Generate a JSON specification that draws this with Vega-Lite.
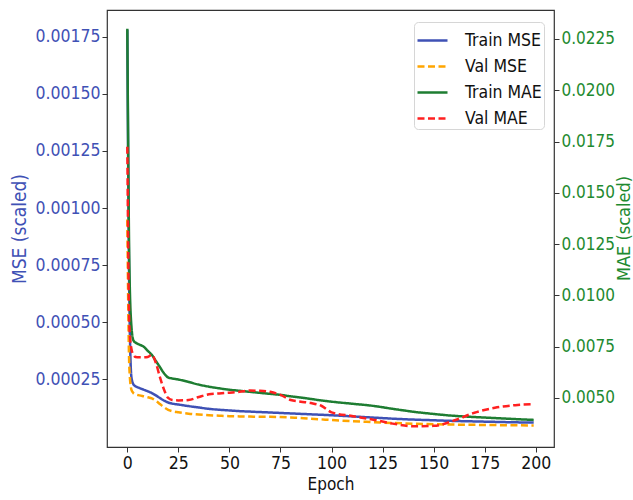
{
  "$schema": "https://vega.github.io/schema/vega-lite/v6.json",
  "width": 447,
  "height": 437,
  "autosize": {"type": "none"},
  "padding": {"left": 107, "top": 10, "right": 79, "bottom": 53},
  "config": {
    "font": "DejaVu Sans Condensed",
    "view": {"stroke": "#333333", "strokeWidth": 1.2},
    "axis": {
      "grid": false,
      "domain": false,
      "tickColor": "#333333",
      "tickSize": 5,
      "tickWidth": 1,
      "labelFont": "DejaVu Sans Condensed",
      "titleFont": "DejaVu Sans Condensed",
      "labelFontSize": 17.5,
      "titleFontSize": 16.5,
      "titleFontWeight": "normal",
      "labelPadding": 2
    },
    "legend": {
      "labelFont": "DejaVu Sans Condensed",
      "labelFontSize": 17.5,
      "labelColor": "#111111"
    }
  },
  "data": {
    "values": [
      {"epoch": 0, "Train MSE": 0.00178, "Val MSE": 0.00095, "Train MAE": 0.0230, "Val MAE": 0.01725},
      {"epoch": 1, "Train MSE": 0.00060, "Val MSE": 0.00030, "Train MAE": 0.0115, "Val MAE": 0.0085},
      {"epoch": 2, "Train MSE": 0.00026, "Val MSE": 0.000205, "Train MAE": 0.0085, "Val MAE": 0.0074},
      {"epoch": 3, "Train MSE": 0.000228, "Val MSE": 0.00019, "Train MAE": 0.0078, "Val MAE": 0.0071},
      {"epoch": 4, "Train MSE": 0.00022, "Val MSE": 0.000185, "Train MAE": 0.0077, "Val MAE": 0.0070},
      {"epoch": 6, "Train MSE": 0.000212, "Val MSE": 0.00018, "Train MAE": 0.0076, "Val MAE": 0.00698},
      {"epoch": 8, "Train MSE": 0.000205, "Val MSE": 0.000176, "Train MAE": 0.0075, "Val MAE": 0.00698},
      {"epoch": 10, "Train MSE": 0.000198, "Val MSE": 0.000172, "Train MAE": 0.0073, "Val MAE": 0.0070},
      {"epoch": 12, "Train MSE": 0.00019, "Val MSE": 0.000167, "Train MAE": 0.0071, "Val MAE": 0.0071},
      {"epoch": 14, "Train MSE": 0.00018, "Val MSE": 0.000156, "Train MAE": 0.0068, "Val MAE": 0.0067},
      {"epoch": 16, "Train MSE": 0.000168, "Val MSE": 0.000142, "Train MAE": 0.0065, "Val MAE": 0.0060},
      {"epoch": 18, "Train MSE": 0.000157, "Val MSE": 0.000128, "Train MAE": 0.0062, "Val MAE": 0.0054},
      {"epoch": 20, "Train MSE": 0.000149, "Val MSE": 0.000117, "Train MAE": 0.0060, "Val MAE": 0.0050},
      {"epoch": 22, "Train MSE": 0.000144, "Val MSE": 0.000111, "Train MAE": 0.00595, "Val MAE": 0.0049},
      {"epoch": 25, "Train MSE": 0.00014, "Val MSE": 0.000106, "Train MAE": 0.0059, "Val MAE": 0.00488},
      {"epoch": 30, "Train MSE": 0.000133, "Val MSE": 0.0001, "Train MAE": 0.00578, "Val MAE": 0.0049},
      {"epoch": 35, "Train MSE": 0.000127, "Val MSE": 0.000096, "Train MAE": 0.00565, "Val MAE": 0.00505},
      {"epoch": 40, "Train MSE": 0.000121, "Val MSE": 0.000093, "Train MAE": 0.00555, "Val MAE": 0.00518},
      {"epoch": 45, "Train MSE": 0.000117, "Val MSE": 0.000091, "Train MAE": 0.00547, "Val MAE": 0.00522},
      {"epoch": 50, "Train MSE": 0.000114, "Val MSE": 0.000089, "Train MAE": 0.0054, "Val MAE": 0.00526},
      {"epoch": 55, "Train MSE": 0.000111, "Val MSE": 0.000088, "Train MAE": 0.00535, "Val MAE": 0.0053},
      {"epoch": 60, "Train MSE": 0.000109, "Val MSE": 0.000087, "Train MAE": 0.0053, "Val MAE": 0.00536},
      {"epoch": 65, "Train MSE": 0.000107, "Val MSE": 0.000086, "Train MAE": 0.00525, "Val MAE": 0.00535},
      {"epoch": 70, "Train MSE": 0.000105, "Val MSE": 0.000086, "Train MAE": 0.0052, "Val MAE": 0.0053},
      {"epoch": 75, "Train MSE": 0.000103, "Val MSE": 0.000085, "Train MAE": 0.00515, "Val MAE": 0.00515},
      {"epoch": 80, "Train MSE": 0.000101, "Val MSE": 0.000083, "Train MAE": 0.00508, "Val MAE": 0.0049},
      {"epoch": 85, "Train MSE": 0.000099, "Val MSE": 0.000081, "Train MAE": 0.00502, "Val MAE": 0.00482},
      {"epoch": 90, "Train MSE": 0.000097, "Val MSE": 0.000078, "Train MAE": 0.00495, "Val MAE": 0.00475},
      {"epoch": 95, "Train MSE": 0.000095, "Val MSE": 0.000075, "Train MAE": 0.00488, "Val MAE": 0.00462},
      {"epoch": 100, "Train MSE": 0.000093, "Val MSE": 0.000072, "Train MAE": 0.00482, "Val MAE": 0.0043},
      {"epoch": 110, "Train MSE": 0.000088, "Val MSE": 0.000067, "Train MAE": 0.00472, "Val MAE": 0.00412},
      {"epoch": 120, "Train MSE": 0.000083, "Val MSE": 0.000063, "Train MAE": 0.00462, "Val MAE": 0.00395},
      {"epoch": 130, "Train MSE": 0.000078, "Val MSE": 0.000059, "Train MAE": 0.00447, "Val MAE": 0.00375},
      {"epoch": 140, "Train MSE": 0.000074, "Val MSE": 0.000056, "Train MAE": 0.00433, "Val MAE": 0.00362},
      {"epoch": 150, "Train MSE": 0.000071, "Val MSE": 0.000054, "Train MAE": 0.00422, "Val MAE": 0.00364},
      {"epoch": 160, "Train MSE": 0.000068, "Val MSE": 0.000052, "Train MAE": 0.00413, "Val MAE": 0.0039},
      {"epoch": 170, "Train MSE": 0.000066, "Val MSE": 0.000051, "Train MAE": 0.00407, "Val MAE": 0.00428},
      {"epoch": 180, "Train MSE": 0.000064, "Val MSE": 0.00005, "Train MAE": 0.00402, "Val MAE": 0.00452},
      {"epoch": 190, "Train MSE": 0.000062, "Val MSE": 0.000049, "Train MAE": 0.00397, "Val MAE": 0.00465},
      {"epoch": 199, "Train MSE": 0.000061, "Val MSE": 0.000048, "Train MAE": 0.00393, "Val MAE": 0.0047}
    ]
  },
  "transform": [
    {"fold": ["Train MSE", "Val MSE", "Train MAE", "Val MAE"], "as": ["series", "value"]}
  ],
  "encoding": {
    "x": {
      "field": "epoch",
      "type": "quantitative",
      "scale": {"domain": [-9.95, 208.95], "nice": false, "zero": false},
      "axis": {"values": [0, 25, 50, 75, 100, 125, 150, 175, 200], "title": "Epoch", "titlePadding": 5, "titleFontSize": 17, "labelColor": "#111111", "titleColor": "#111111"}
    },
    "color": {
      "field": "series",
      "type": "nominal",
      "scale": {
        "domain": ["Train MSE", "Val MSE", "Train MAE", "Val MAE"],
        "range": ["#3F51B5", "#FFA500", "#1E7D32", "#FF2020"]
      },
      "legend": {
        "title": null,
        "orient": "none",
        "legendX": 307,
        "legendY": 12,
        "symbolType": "stroke",
        "symbolSize": 900,
        "symbolStrokeWidth": 2.5,
        "labelOffset": 16,
        "rowPadding": 1,
        "padding": 2,
        "strokeColor": "#d6d6d6",
        "fillColor": "#ffffff",
        "cornerRadius": 4
      }
    },
    "strokeDash": {
      "field": "series",
      "type": "nominal",
      "scale": {
        "domain": ["Train MSE", "Val MSE", "Train MAE", "Val MAE"],
        "range": [[1, 0], [7, 3.5], [1, 0], [7, 3.5]]
      },
      "legend": {
        "title": null,
        "orient": "none",
        "legendX": 307,
        "legendY": 12,
        "symbolType": "stroke",
        "symbolSize": 900,
        "symbolStrokeWidth": 2.5,
        "labelOffset": 16,
        "rowPadding": 1,
        "padding": 2,
        "strokeColor": "#d6d6d6",
        "fillColor": "#ffffff",
        "cornerRadius": 4
      }
    }
  },
  "layer": [
    {
      "transform": [{"filter": {"field": "series", "oneOf": ["Train MSE", "Val MSE"]}}],
      "mark": {"type": "line", "strokeWidth": 2.5, "interpolate": "monotone", "clip": true},
      "encoding": {
        "y": {
          "field": "value",
          "type": "quantitative",
          "scale": {"domain": [-0.000046, 0.001867], "nice": false, "zero": false},
          "axis": {
            "orient": "left",
            "values": [0.00025, 0.0005, 0.00075, 0.001, 0.00125, 0.0015, 0.00175],
            "format": ".5f",
            "title": "MSE (scaled)",
            "titleFontSize": 19,
            "labelColor": "#3F51B5",
            "titleColor": "#3F51B5",
            "titlePadding": 5
          }
        }
      }
    },
    {
      "transform": [{"filter": {"field": "series", "oneOf": ["Train MAE", "Val MAE"]}}],
      "mark": {"type": "line", "strokeWidth": 2.5, "interpolate": "monotone", "clip": true},
      "encoding": {
        "y": {
          "field": "value",
          "type": "quantitative",
          "scale": {"domain": [0.00261, 0.02391], "nice": false, "zero": false},
          "axis": {
            "orient": "right",
            "values": [0.005, 0.0075, 0.01, 0.0125, 0.015, 0.0175, 0.02, 0.0225],
            "format": ".4f",
            "labelFontSize": 17,
            "title": "MAE (scaled)",
            "titleFontSize": 18,
            "titleAngle": 270,
            "titleX": 70,
            "titleY": 218,
            "titleAlign": "center",
            "titleBaseline": "middle",
            "labelColor": "#1E8A30",
            "titleColor": "#1E8A30"
          }
        }
      }
    }
  ],
  "resolve": {"scale": {"y": "independent"}}
}
